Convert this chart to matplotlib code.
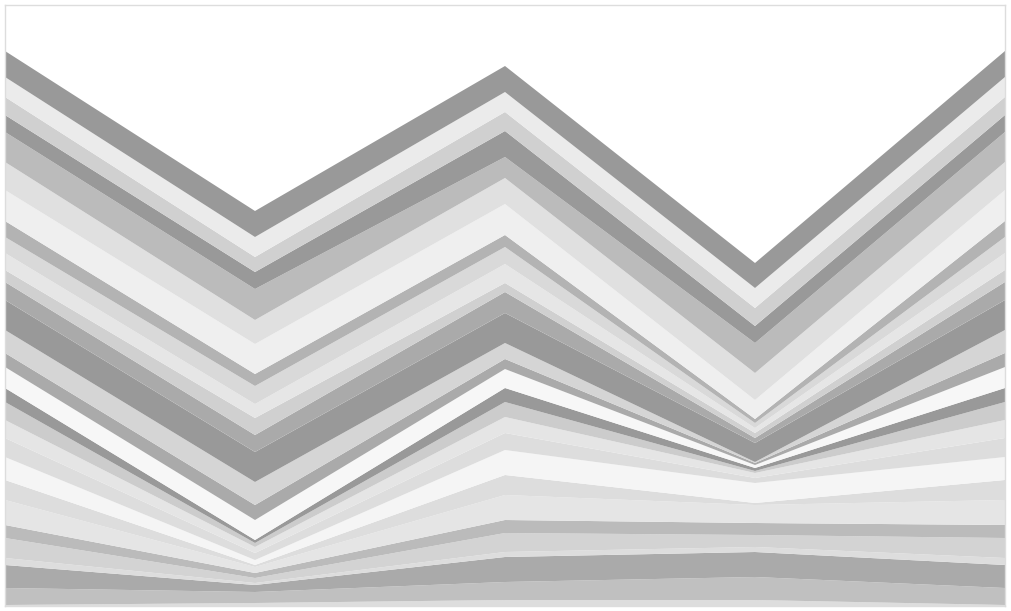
import numpy as np
import matplotlib
matplotlib.use('Agg')
import matplotlib.pyplot as plt

# x positions (5 samples)
steps = [0, 1, 2, 3, 4]

# layer thickness at each step, bottom layer first
col0 = [1, 17, 23, 7, 20, 13, 25, 20, 23, 19, 18, 18, 14, 21, 14, 23, 30,
        18, 12, 17, 16, 16, 31, 28, 30, 17, 18, 20, 26]
col1 = [3, 11, 7, 2, 5, 5, 6, 2, 5, 7, 6, 4, 3, 20, 15, 23, 30,
        17, 17, 14, 18, 12, 30, 24, 31, 17, 15, 20, 26]
col2 = [6, 18, 25, 5, 19, 13, 25, 20, 25, 17, 16, 15, 14, 19, 10, 16, 30,
        21, 9, 19, 17, 12, 31, 26, 21, 26, 19, 20, 26]
col3 = [6, 23, 25, 5, 12, 12, 18, 2, 20, 5, 5, 2, 3, 3, 2, 1, 19,
        5, 5, 5, 5, 4, 19, 27, 30, 17, 18, 20, 25]
col4 = col0

colors = ['#dddddd', '#c0c0c0', '#aaaaaa', '#dddddd', '#d3d3d3', '#bbbbbb',
          '#e5e5e5', '#dddddd', '#f5f5f5', '#dddddd', '#e5e5e5', '#cccccc',
          '#999999', '#f7f7f7', '#aaaaaa', '#d5d5d5', '#999999', '#aaaaaa',
          '#d0d0d0', '#e6e6e6', '#d9d9d9', '#b3b3b3', '#efefef', '#e0e0e0',
          '#bbbbbb', '#999999', '#d0d0d0', '#ebebeb', '#999999']

layers = np.array([col0, col1, col2, col3, col4]).T

fig = plt.figure(figsize=(10.11, 6.11), dpi=100)
ax = fig.add_axes([5 / 1011, 5 / 611, 1000 / 1011, 601 / 611])
ax.stackplot(steps, *layers, colors=colors, linewidth=0, antialiased=True)

ax.set_xlim(0, 4)
ax.set_ylim(0, 601)
ax.set_xticks([])
ax.set_yticks([])
for s in ax.spines.values():
    s.set_color('#dddddd')
    s.set_linewidth(1)

fig.savefig('out.png', dpi=100)
